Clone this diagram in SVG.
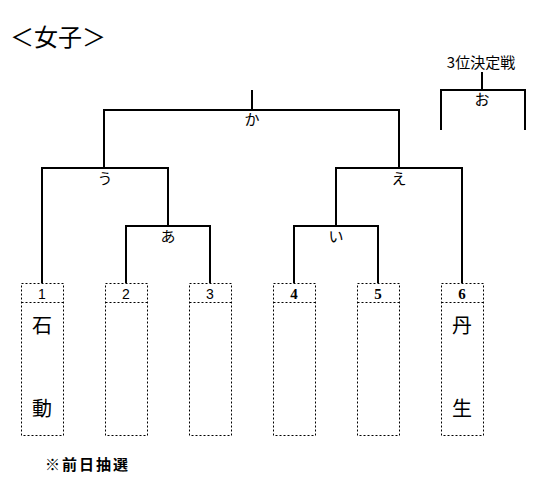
<svg xmlns="http://www.w3.org/2000/svg" width="547" height="493" viewBox="0 0 547 493">
<style>
.ln{stroke:#000;stroke-width:2;fill:none}
.bx{stroke:#000;stroke-width:1;fill:none;stroke-dasharray:2,2}
.lb{font-family:"Noto Sans CJK JP",sans-serif;font-size:15px;text-anchor:middle;fill:#000}
.num{font-family:"Liberation Sans",Arial,sans-serif;font-size:14px;text-anchor:middle;fill:#000}
.nums{font-family:"Liberation Serif",serif;font-size:15px;font-weight:bold;text-anchor:middle;fill:#000}
.nm{font-family:"Noto Sans CJK JP",sans-serif;font-size:20px;text-anchor:middle;fill:#000}
</style>
<rect width="547" height="493" fill="#fff"/>
<text x="10" y="46" font-family="Noto Sans CJK JP,sans-serif" font-size="24" fill="#000">＜女子＞</text>
<text x="45" y="470" font-family="Noto Sans CJK JP,sans-serif" font-size="15" font-weight="bold" letter-spacing="2" fill="#000">※前日抽選</text>
<g id="connectors">
<path class="ln" d="M252 90V110M104 168V110H399V168"/>
<path class="ln" d="M42 283V168H168V226"/>
<path class="ln" d="M126 283V226H210V283"/>
<path class="ln" d="M336 226V168H462V283"/>
<path class="ln" d="M294 283V226H378V283"/>
<path class="ln" d="M482 72V90M441 130V90H525V130"/>
</g>
<g id="labels">
<text class="lb" x="252" y="125">か</text>
<text class="lb" x="105" y="184">う</text>
<text class="lb" x="168" y="242">あ</text>
<text class="lb" x="399" y="184">え</text>
<text class="lb" x="336" y="242">い</text>
<text class="lb" x="482" y="105">お</text>
<text class="lb" x="481" y="68">3位決定戦</text>
</g>
<g id="box1"><rect class="bx" x="21.5" y="283.5" width="42" height="152"/><line class="bx" x1="21.5" y1="302.5" x2="63.5" y2="302.5"/><text class="num" x="42" y="299">1</text><text class="nm" x="42" y="333">石</text><text class="nm" x="42" y="416">動</text></g>
<g id="box2"><rect class="bx" x="105.5" y="283.5" width="42" height="152"/><line class="bx" x1="105.5" y1="302.5" x2="147.5" y2="302.5"/><text class="num" x="126" y="299">2</text></g>
<g id="box3"><rect class="bx" x="189.5" y="283.5" width="42" height="152"/><line class="bx" x1="189.5" y1="302.5" x2="231.5" y2="302.5"/><text class="num" x="210" y="299">3</text></g>
<g id="box4"><rect class="bx" x="273.5" y="283.5" width="42" height="152"/><line class="bx" x1="273.5" y1="302.5" x2="315.5" y2="302.5"/><text class="nums" x="294" y="299">4</text></g>
<g id="box5"><rect class="bx" x="357.5" y="283.5" width="42" height="152"/><line class="bx" x1="357.5" y1="302.5" x2="399.5" y2="302.5"/><text class="nums" x="378" y="299">5</text></g>
<g id="box6"><rect class="bx" x="441.5" y="283.5" width="42" height="152"/><line class="bx" x1="441.5" y1="302.5" x2="483.5" y2="302.5"/><text class="nums" x="462" y="299">6</text><text class="nm" x="462" y="333">丹</text><text class="nm" x="462" y="416">生</text></g>
</svg>
